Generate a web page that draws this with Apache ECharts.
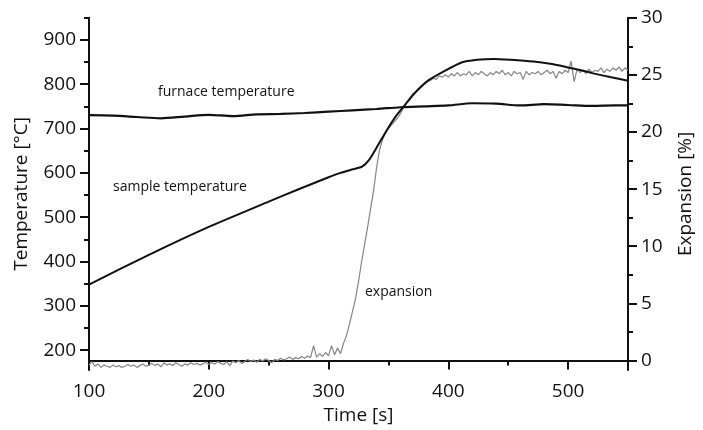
<!DOCTYPE html>
<html>
<head>
<meta charset="utf-8">
<script src="https://cdn.jsdelivr.net/npm/echarts@6/dist/echarts.min.js"></script>
<style>
  html, body { margin: 0; padding: 0; background: #fff; }
  #main { width: 703px; height: 430px; }
</style>
</head>
<body>
<div id="main"></div>
<script>
// time [s] / temperature [°C]
var sampleTime = [100, 150, 200, 250, 275, 300, 310, 320, 328, 334, 341, 349, 356, 364, 372, 383, 397, 411, 424, 438, 452, 471, 485, 498, 510, 520, 535, 550];
var sampleTemp = [348, 415, 478, 535, 563, 590, 600, 608, 614, 630, 661, 698, 727, 754, 780, 808, 830, 849, 855, 857, 855, 851, 846, 839, 832, 825, 816, 808];

var furnaceTime = [100, 120, 140, 160, 180, 200, 220, 240, 260, 280, 300, 320, 340, 360, 380, 400, 420, 440, 460, 480, 500, 520, 540, 550];
var furnaceTemp = [730, 729, 726, 723, 727, 731, 728, 732, 733, 735, 738, 741, 744, 748, 750, 752, 757, 756, 752, 755, 753, 751, 752, 752];

// [time, expansion %]
var expansion = [
    [100, -0.4], [102.5, -0.1], [105, -0.5], [107.5, -0.3], [110, -0.6], [112.5, -0.4], [115, -0.5], [117.5, -0.6], [120, -0.4], [122.5, -0.55],
    [125, -0.45], [127.5, -0.6], [130, -0.5], [132.5, -0.35], [135, -0.5], [137.5, -0.4], [140, -0.6], [142.5, -0.45], [145, -0.3], [147.5, -0.5],
    [150, -0.4], [152.5, -0.25], [155, -0.45], [157.5, -0.3], [160, -0.55], [162.5, -0.2], [165, -0.4], [167.5, -0.3], [170, -0.45], [172.5, -0.2],
    [175, -0.35], [177.5, -0.5], [180, -0.3], [182.5, -0.4], [185, -0.2], [187.5, -0.35], [190, -0.25], [192.5, -0.4], [195, -0.3], [197.5, -0.15],
    [200, -0.35], [202.5, -0.2], [205, -0.3], [207.5, -0.1], [210, -0.25], [212.5, -0.35], [215, -0.1], [217.5, -0.45], [220, -0.05], [222.5, -0.2],
    [225, 0.0], [227.5, -0.25], [230, -0.1], [232.5, 0.1], [235, -0.1], [237.5, 0.05], [240, -0.15], [242.5, 0.1], [245, -0.05], [247.5, 0.15],
    [250, 0.0], [252.5, -0.2], [255, 0.1], [257.5, 0.0], [260, 0.2], [262.5, 0.05], [265, 0.15], [267.5, 0.3], [270, 0.1], [272.5, 0.25],
    [275, 0.15], [277.5, 0.35], [280, 0.2], [282.5, 0.4], [285, 0.25], [287.5, 1.3], [290, 0.3], [292.5, 0.6], [295, 0.35], [297.5, 0.7],
    [300, 0.4], [302.5, 1.3], [305, 0.5], [307.5, 1.1], [310, 0.6], [312.5, 1.5], [315, 2.2], [317.5, 3.2], [320, 4.3], [322.5, 5.4],
    [325, 6.9], [327.5, 8.6], [330, 10.1], [332.5, 11.6], [335, 13.2], [337.5, 14.8], [340, 16.8], [342.5, 18.4], [345, 19.3], [347.5, 19.9],
    [350, 20.3], [352.5, 20.6], [355, 20.9], [357.5, 21.2], [360, 21.6], [362.5, 22.1], [365, 22.5], [367.5, 22.9], [370, 23.3], [372.5, 23.5],
    [375, 23.8], [377.5, 24.0], [380, 24.2], [382.5, 24.4], [385, 24.5], [387.5, 24.7], [390, 24.6], [392.5, 24.9], [395, 24.8], [397.5, 25.0],
    [400, 24.8], [402.5, 25.1], [405, 24.9], [407.5, 25.2], [410, 24.9], [412.5, 25.1], [415, 25.0], [417.5, 25.3], [420, 24.9], [422.5, 25.2],
    [425, 25.0], [427.5, 25.3], [430, 25.1], [432.5, 24.9], [435, 25.2], [437.5, 25.0], [440, 25.3], [442.5, 25.1], [445, 25.4], [447.5, 25.0],
    [450, 25.2], [452.5, 24.9], [455, 25.3], [457.5, 25.1], [460, 25.2], [462.5, 24.6], [465, 25.3], [467.5, 25.0], [470, 25.2], [472.5, 25.1],
    [475, 25.3], [477.5, 25.0], [480, 25.2], [482.5, 25.4], [485, 25.1], [487.5, 25.3], [490, 24.7], [492.5, 25.3], [495, 25.1], [497.5, 25.4],
    [500, 25.2], [502.5, 26.2], [505, 24.4], [507.5, 25.5], [510, 25.2], [512.5, 25.4], [515, 25.1], [517.5, 25.5], [520, 25.2], [522.5, 25.4],
    [525, 25.3], [527.5, 25.6], [530, 25.2], [532.5, 25.5], [535, 25.3], [537.5, 25.6], [540, 25.4], [542.5, 25.7], [545, 25.3], [547.5, 25.6], [550, 25.4]
];

// tick labels
var timeTicks = [100, 200, 300, 400, 500];
var timeMinor = [150, 250, 350, 450];
var tempTicks = [200, 300, 400, 500, 600, 700, 800, 900];
var tempMinor = [250, 350, 450, 550, 650, 750, 850, 950];
var expTicks = [0, 5, 10, 15, 20, 25, 30];
var expMinor = [2.5, 7.5, 12.5, 17.5, 22.5, 27.5];

function zip(a, b) {
    var out = [];
    for (var i = 0; i < a.length; i++) out.push([a[i], b[i]]);
    return out;
}

var font = 'Open Sans';
var ink = '#111';

var myChart = echarts.init(document.getElementById('main'));

var option = {
    animation: false,
    textStyle: { fontFamily: font },
    grid: { left: 89, right: 67, top: 17.7, bottom: 57 },
    xAxis: [{
        type: 'value',
        min: 100,
        max: 550,
        name: 'Time [s]',
        nameLocation: 'middle',
        nameGap: 29,
        nameTextStyle: { fontSize: 19, color: ink, fontFamily: font },
        axisLine: { lineStyle: { color: ink, width: 2 } },
        axisTick: { customValues: timeTicks, length: 9, lineStyle: { color: ink, width: 2 } },
        axisLabel: { customValues: timeTicks, fontSize: 19, color: ink, margin: 12, fontFamily: font },
        splitLine: { show: false }
    }, {
        type: 'value',
        min: 100,
        max: 550,
        position: 'bottom',
        axisLine: { show: false },
        axisTick: { customValues: timeMinor, length: 5, lineStyle: { color: ink, width: 2 } },
        axisLabel: { show: false },
        splitLine: { show: false }
    }],
    yAxis: [{
        type: 'value',
        min: 155,
        max: 950,
        position: 'left',
        name: 'Temperature [°C]',
        nameLocation: 'middle',
        nameGap: 58,
        nameTextStyle: { fontSize: 19, color: ink, fontFamily: font },
        axisLine: { show: true, lineStyle: { color: ink, width: 2 } },
        axisTick: { customValues: tempTicks, length: 9, lineStyle: { color: ink, width: 2 } },
        axisLabel: { customValues: tempTicks, fontSize: 19, color: ink, margin: 13, fontFamily: font },
        splitLine: { show: false }
    }, {
        type: 'value',
        min: -0.84,
        max: 30,
        position: 'right',
        name: 'Expansion [%]',
        nameLocation: 'middle',
        nameGap: 48,
        nameRotate: 90,
        nameTextStyle: { fontSize: 19, color: ink, fontFamily: font },
        axisLine: { show: true, lineStyle: { color: ink, width: 2 } },
        axisTick: { customValues: expTicks, length: 9, lineStyle: { color: ink, width: 2 } },
        axisLabel: { customValues: expTicks, fontSize: 19, color: ink, margin: 13, fontFamily: font },
        splitLine: { show: false }
    }, {
        type: 'value',
        min: 155,
        max: 950,
        position: 'left',
        axisLine: { show: false },
        axisTick: { customValues: tempMinor, length: 5, lineStyle: { color: ink, width: 2 } },
        axisLabel: { show: false },
        splitLine: { show: false }
    }, {
        type: 'value',
        min: -0.84,
        max: 30,
        position: 'right',
        axisLine: { show: false },
        axisTick: { customValues: expMinor, length: 5, lineStyle: { color: ink, width: 2 } },
        axisLabel: { show: false },
        splitLine: { show: false }
    }],
    series: [{
        name: 'expansion',
        type: 'line',
        yAxisIndex: 1,
        showSymbol: false,
        data: expansion,
        lineStyle: { color: '#858585', width: 1.2 },
        z: 2
    }, {
        name: 'furnace temperature',
        type: 'line',
        yAxisIndex: 0,
        showSymbol: false,
        smooth: 0.3,
        data: zip(furnaceTime, furnaceTemp),
        lineStyle: { color: ink, width: 2.2 },
        z: 3
    }, {
        name: 'sample temperature',
        type: 'line',
        yAxisIndex: 0,
        showSymbol: false,
        smooth: 0.2,
        data: zip(sampleTime, sampleTemp),
        lineStyle: { color: ink, width: 2 },
        z: 3
    }],
    graphic: [
        { type: 'text', left: 158, top: 85, style: { text: 'furnace temperature', font: '14px "Open Sans"', fill: ink } },
        { type: 'text', left: 113, top: 180, style: { text: 'sample temperature', font: '14px "Open Sans"', fill: ink } },
        { type: 'text', left: 365, top: 285, style: { text: 'expansion', font: '14px "Open Sans"', fill: ink } }
    ]
};

myChart.setOption(option);
</script>
</body>
</html>
